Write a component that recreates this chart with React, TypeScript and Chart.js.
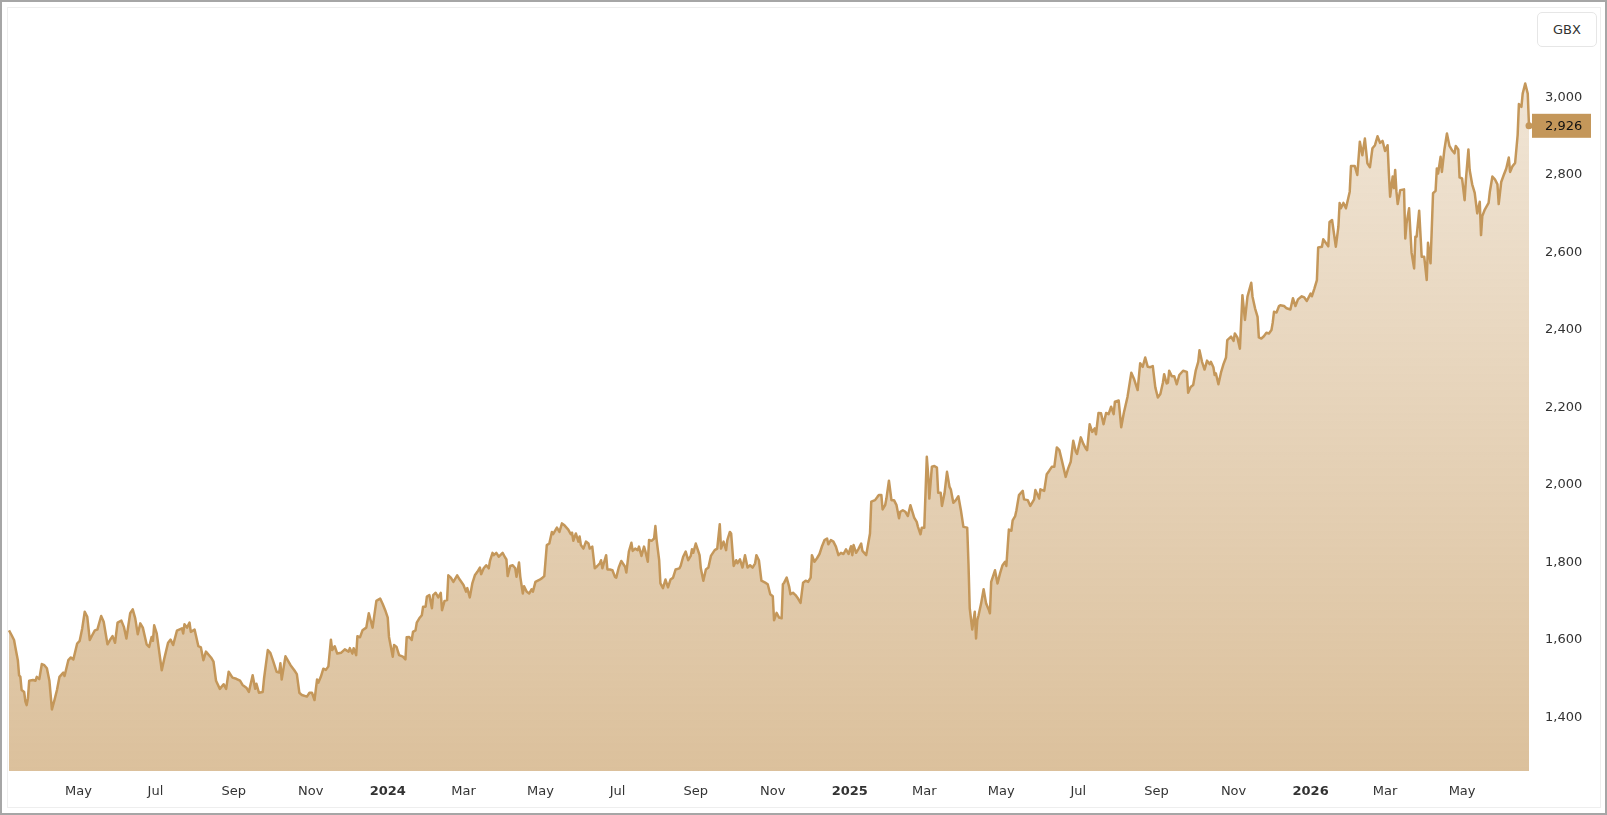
import React, { useEffect, useRef } from "react";
import { Chart, registerables } from "chart.js";

Chart.register(...registerables);

// Data: day offsets from the first session (2023-03-07) and closing prices in GBX
const START_DATE = Date.UTC(2023, 2, 7);
const DAY_MS = 86400000;

const DAYS = [
  0, 2, 4, 5, 7, 8, 9, 10, 12, 13, 14, 15, 16, 19, 21, 22, 24, 26, 28, 30, 32, 34, 36, 38, 40, 43, 44, 47, 49, 51, 54, 56, 58, 60, 62, 64, 66, 68, 70, 73, 75, 78, 80, 82, 84, 86, 89, 91, 93, 96, 98, 100, 102, 104, 106, 109, 111, 113, 114, 115, 117, 121, 123, 126, 128, 130, 133, 137, 138, 139, 141, 143, 144, 147, 150, 152, 154, 156, 160, 162, 164, 167, 170, 172, 174, 177, 180, 183, 185, 188, 190, 193, 195, 196, 198, 201, 202, 205, 207, 209, 212, 214, 215, 216, 219, 223, 226, 228, 230, 232, 236, 238, 240, 242, 244, 245, 247, 249, 251, 253, 255, 256, 258, 260, 263, 266, 269, 270, 272, 273, 275, 276, 278, 280, 283, 285, 288, 291, 294, 296, 298, 300, 301, 304, 305, 307, 309, 312, 314, 315, 317, 319, 320, 322, 323, 325, 327, 328, 330, 331, 333, 335, 336, 338, 340, 342, 343, 345, 347, 348, 350, 352, 355, 357, 360, 362, 363, 365, 367, 369, 371, 373, 374, 376, 378, 380, 381, 383, 384, 386, 388, 391, 393, 394, 395, 397, 399, 401, 402, 404, 405, 407, 408, 410, 412, 414, 415, 417, 420, 422, 424, 426, 428, 430, 431, 434, 436, 438, 440, 443, 445, 446, 447, 449, 451, 452, 453, 455, 457, 459, 460, 462, 464, 466, 468, 469, 470, 473, 474, 476, 478, 480, 481, 483, 485, 488, 489, 491, 493, 494, 496, 498, 499, 501, 503, 504, 506, 507, 509, 511, 512, 513, 515, 516, 518, 520, 522, 524, 526, 528, 531, 532, 534, 536, 538, 540, 541, 542, 544, 547, 548, 550, 552, 554, 556, 559, 561, 563, 564, 566, 568, 569, 571, 572, 574, 576, 577, 579, 581, 583, 585, 587, 589, 591, 592, 594, 596, 599, 601, 603, 605, 606, 608, 610, 612, 613, 614, 616, 618, 619, 621, 623, 625, 627, 629, 631, 633, 635, 636, 638, 640, 642, 644, 646, 648, 649, 651, 653, 655, 657, 659, 661, 663, 665, 667, 668, 669, 671, 673, 675, 676, 679, 682, 683, 686, 688, 689, 691, 692, 694, 695, 697, 699, 701, 703, 705, 706, 708, 710, 712, 714, 717, 719, 720, 722, 723, 725, 727, 728, 729, 731, 733, 735, 736, 738, 739, 741, 743, 745, 746, 748, 750, 752, 754, 756, 759, 760, 761, 763, 765, 766, 767, 768, 770, 772, 774, 776, 777, 778, 781, 783, 785, 787, 789, 790, 792, 794, 795, 797, 798, 800, 803, 804, 807, 809, 812, 813, 816, 817, 820, 822, 824, 826, 828, 830, 832, 834, 837, 839, 841, 843, 845, 846, 849, 851, 853, 854, 856, 858, 860, 861, 863, 865, 867, 869, 871, 873, 875, 876, 879, 881, 883, 886, 889, 891, 894, 896, 898, 900, 902, 904, 906, 908, 910, 912, 914, 915, 917, 918, 919, 921, 923, 925, 927, 930, 933, 934, 936, 938, 940, 942, 943, 945, 947, 949, 951, 952, 954, 955, 956, 958, 960, 962, 964, 965, 968, 970, 971, 973, 975, 977, 979, 981, 983, 984, 985, 987, 989, 990, 992, 994, 996, 998, 1000, 1001, 1002, 1004, 1006, 1007, 1010, 1012, 1015, 1017, 1019, 1021, 1024, 1026, 1028, 1031, 1032, 1034, 1036, 1037, 1040, 1041, 1043, 1045, 1046, 1048, 1051, 1053, 1054, 1055, 1057, 1059, 1062, 1063, 1066, 1068, 1070, 1072, 1074, 1076, 1078, 1080, 1082, 1084, 1086, 1088, 1090, 1092, 1093, 1094, 1096, 1097, 1098, 1099, 1100, 1102, 1105, 1106, 1107, 1109, 1111, 1113, 1114, 1115, 1117, 1119, 1121, 1123, 1124, 1126, 1128, 1130, 1131, 1132, 1134, 1135, 1137, 1139, 1141, 1143, 1145, 1146, 1148, 1149, 1151, 1153, 1154, 1156, 1157, 1159, 1161, 1163, 1165, 1166, 1167, 1169, 1172, 1173, 1175, 1177, 1179, 1180, 1182, 1184, 1186, 1188, 1189, 1191, 1193, 1195, 1196, 1198, 1199, 1201, 1203, 1204,
];

const PRICES = [
  1624, 1612, 1599, 1581, 1547, 1508, 1504, 1470, 1465, 1440, 1431, 1449, 1494, 1496, 1494, 1504, 1498, 1537, 1534, 1526, 1494, 1420, 1444, 1470, 1504, 1515, 1506, 1547, 1554, 1549, 1590, 1597, 1629, 1672, 1659, 1599, 1612, 1624, 1626, 1661, 1646, 1588, 1599, 1609, 1592, 1644, 1649, 1633, 1603, 1668, 1678, 1655, 1614, 1642, 1631, 1588, 1581, 1607, 1597, 1637, 1616, 1521, 1551, 1592, 1600, 1586, 1623, 1629, 1616, 1640, 1631, 1644, 1620, 1626, 1583, 1580, 1547, 1569, 1554, 1543, 1494, 1473, 1485, 1473, 1517, 1502, 1499, 1494, 1483, 1476, 1465, 1508, 1473, 1486, 1463, 1465, 1499, 1573, 1566, 1547, 1517, 1515, 1539, 1497, 1557, 1534, 1521, 1511, 1463, 1457, 1453, 1463, 1463, 1444, 1497, 1489, 1504, 1525, 1522, 1531, 1600, 1573, 1583, 1564, 1566, 1575, 1569, 1578, 1564, 1578, 1560, 1609, 1606, 1624, 1631, 1668, 1631, 1700, 1706, 1692, 1676, 1657, 1607, 1556, 1586, 1581, 1560, 1556, 1549, 1606, 1607, 1599, 1620, 1624, 1644, 1655, 1663, 1685, 1685, 1711, 1715, 1681, 1715, 1721, 1709, 1721, 1676, 1700, 1702, 1766, 1760, 1749, 1766, 1755, 1741, 1724, 1733, 1709, 1745, 1766, 1775, 1786, 1769, 1784, 1792, 1784, 1803, 1824, 1818, 1824, 1814, 1824, 1812, 1807, 1764, 1790, 1792, 1784, 1762, 1799, 1762, 1719, 1738, 1724, 1719, 1730, 1724, 1749, 1754, 1758, 1764, 1844, 1848, 1878, 1872, 1889, 1878, 1900, 1895, 1884, 1872, 1876, 1855, 1874, 1853, 1866, 1844, 1835, 1853, 1848, 1835, 1840, 1784, 1790, 1797, 1805, 1784, 1818, 1781, 1781, 1779, 1762, 1760, 1786, 1803, 1788, 1773, 1827, 1850, 1829, 1835, 1831, 1840, 1816, 1840, 1829, 1801, 1857, 1855, 1861, 1893, 1857, 1805, 1745, 1733, 1755, 1735, 1755, 1760, 1781, 1784, 1790, 1814, 1827, 1805, 1816, 1833, 1824, 1848, 1818, 1784, 1752, 1781, 1786, 1816, 1831, 1835, 1898, 1835, 1853, 1831, 1857, 1878, 1874, 1790, 1805, 1797, 1807, 1786, 1818, 1786, 1792, 1786, 1797, 1818, 1805, 1752, 1747, 1743, 1717, 1712, 1650, 1669, 1657, 1655, 1743, 1747, 1760, 1736, 1717, 1721, 1715, 1706, 1695, 1747, 1752, 1749, 1760, 1818, 1801, 1810, 1821, 1841, 1857, 1861, 1846, 1857, 1853, 1840, 1818, 1824, 1821, 1833, 1821, 1841, 1818, 1844, 1824, 1835, 1848, 1829, 1818, 1874, 1956, 1960, 1969, 1973, 1973, 1936, 1947, 1964, 2010, 1960, 1960, 1947, 1913, 1930, 1934, 1930, 1919, 1947, 1915, 1904, 1891, 1872, 1889, 1889, 2072, 2029, 1964, 2046, 2048, 2044, 1979, 1979, 1945, 1977, 2033, 1994, 1988, 1953, 1960, 1970, 1934, 1891, 1889, 1797, 1681, 1626, 1672, 1603, 1650, 1663, 1693, 1730, 1693, 1678, 1668, 1749, 1779, 1745, 1771, 1792, 1801, 1790, 1884, 1881, 1908, 1919, 1934, 1973, 1984, 1962, 1960, 1945, 1962, 1986, 1964, 1988, 1984, 2027, 2036, 2046, 2046, 2096, 2089, 2062, 2020, 2042, 2059, 2113, 2085, 2079, 2122, 2105, 2093, 2089, 2156, 2136, 2145, 2130, 2185, 2184, 2156, 2185, 2182, 2201, 2182, 2214, 2217, 2148, 2184, 2227, 2289, 2274, 2244, 2313, 2304, 2328, 2304, 2303, 2306, 2251, 2225, 2234, 2263, 2285, 2261, 2263, 2294, 2280, 2280, 2259, 2283, 2294, 2291, 2237, 2252, 2257, 2294, 2317, 2347, 2317, 2297, 2320, 2311, 2317, 2303, 2283, 2287, 2259, 2289, 2311, 2328, 2373, 2382, 2371, 2390, 2380, 2351, 2489, 2425, 2485, 2509, 2521, 2485, 2455, 2433, 2380, 2377, 2383, 2392, 2390, 2399, 2418, 2446, 2444, 2461, 2463, 2461, 2455, 2452, 2481, 2461, 2478, 2486, 2483, 2474, 2493, 2486, 2506, 2528, 2612, 2614, 2633, 2624, 2615, 2678, 2683, 2614, 2665, 2727, 2713, 2727, 2713, 2756, 2822, 2822, 2799, 2885, 2850, 2893, 2829, 2819, 2868, 2876, 2899, 2882, 2887, 2861, 2876, 2803, 2743, 2795, 2765, 2812, 2756, 2724, 2760, 2762, 2635, 2674, 2713, 2598, 2558, 2640, 2640, 2707, 2588, 2588, 2528, 2624, 2571, 2752, 2758, 2816, 2803, 2846, 2807, 2865, 2906, 2874, 2863, 2855, 2874, 2865, 2793, 2790, 2734, 2786, 2865, 2812, 2775, 2753, 2700, 2730, 2644, 2693, 2710, 2727, 2756, 2795, 2788, 2775, 2724, 2781, 2799, 2816, 2844, 2807, 2822, 2830, 2902, 2982, 2975, 3009, 3035, 3009, 2926,
];

const Y_TICKS = [1400, 1600, 1800, 2000, 2200, 2400, 2600, 2800, 3000];
const Y_MIN = 1261;
const Y_MAX = 3230;
const MONTH_NAMES = ["Jan", "Feb", "Mar", "Apr", "May", "Jun", "Jul", "Aug", "Sep", "Oct", "Nov", "Dec"];
const TICK_MONTHS = [0, 2, 4, 6, 8, 10];
const TICK_YEARS = [2023, 2024, 2025, 2026];
const CURRENCY = "GBX";

const LINE_COLOR = "#c4975a";
const TEXT_COLOR = "#333333";
const FONT_FAMILY = "'DejaVu Sans', sans-serif";

function buildMonthTicks(maxDay: number) {
  const ticks: { value: number; label: string; isYear: boolean }[] = [];
  for (const y of TICK_YEARS) {
    for (const m of TICK_MONTHS) {
      const d = Math.round((Date.UTC(y, m, 1) - START_DATE) / DAY_MS);
      if (d >= 0 && d <= maxDay) {
        ticks.push({ value: d, label: m === 0 ? String(y) : MONTH_NAMES[m], isYear: m === 0 });
      }
    }
  }
  return ticks;
}

const lastPricePlugin = {
  id: "lastPrice",
  afterDatasetsDraw(chart: any) {
    const { ctx, chartArea, scales } = chart;
    const last = PRICES[PRICES.length - 1];
    const y = scales.y.getPixelForValue(last);
    const x = chartArea.right + 3;
    ctx.save();
    ctx.fillStyle = LINE_COLOR;
    ctx.fillRect(x, y - 12, 59, 24);
    ctx.fillStyle = "#111111";
    ctx.font = `13px ${FONT_FAMILY}`;
    ctx.textAlign = "left";
    ctx.textBaseline = "middle";
    ctx.fillText(last.toLocaleString("en-US"), chartArea.right + 16, y + 0.5);
    ctx.restore();
  },
};

export default function App() {
  const canvasRef = useRef<HTMLCanvasElement | null>(null);

  useEffect(() => {
    document.body.style.margin = "0";
    const canvas = canvasRef.current;
    if (!canvas) return;
    const maxDay = DAYS[DAYS.length - 1];
    const monthTicks = buildMonthTicks(maxDay);
    const points = DAYS.map((d, i) => ({ x: d, y: PRICES[i] }));
    const lastIndex = points.length - 1;

    const chart = new Chart(canvas, {
      type: "line",
      data: {
        datasets: [
          {
            data: points,
            borderColor: LINE_COLOR,
            borderWidth: 2.5,
            borderJoinStyle: "round",
            tension: 0,
            fill: "start",
            clip: false as any,
            backgroundColor: (ctx: any) => {
              const { chart: c } = ctx;
              const area = c.chartArea;
              if (!area) return "rgba(196,151,90,0.4)";
              const g = c.ctx.createLinearGradient(0, area.top, 0, area.bottom);
              g.addColorStop(0, "rgba(196,151,90,0.22)");
              g.addColorStop(1, "rgba(196,151,90,0.6)");
              return g;
            },
            pointRadius: (ctx: any) => (ctx.dataIndex === lastIndex ? 3.5 : 0),
            pointBackgroundColor: LINE_COLOR,
            pointBorderWidth: 0,
            pointHoverRadius: 0,
          },
        ],
      },
      options: {
        animation: false,
        responsive: false,
        maintainAspectRatio: false,
        devicePixelRatio: 1,
        layout: { padding: { left: 9, top: 8, right: 0, bottom: 0 } },
        plugins: {
          legend: { display: false },
          tooltip: { enabled: false },
        },
        events: [],
        scales: {
          x: {
            type: "linear",
            min: 0,
            max: maxDay,
            grid: { display: false, drawTicks: false },
            border: { display: false },
            afterFit: (s: any) => {
              s.height = 44;
              s.paddingLeft = 0;
              s.paddingRight = 0;
            },
            afterBuildTicks: (s: any) => {
              s.ticks = monthTicks.map((t) => ({ value: t.value }));
            },
            ticks: {
              autoSkip: false,
              maxRotation: 0,
              padding: 13,
              color: TEXT_COLOR,
              font: (ctx: any) => {
                const t = monthTicks.find((m) => m.value === ctx.tick?.value);
                return { family: FONT_FAMILY, size: 13, weight: t && t.isYear ? "bold" : "normal" };
              },
              callback: (v: any) => {
                const t = monthTicks.find((m) => m.value === v);
                return t ? t.label : "";
              },
            },
          },
          y: {
            type: "linear",
            position: "right",
            min: Y_MIN,
            max: Y_MAX,
            grid: { display: false, drawTicks: false },
            border: { display: false },
            afterFit: (s: any) => {
              s.width = 78;
              s.paddingTop = 0;
              s.paddingBottom = 0;
            },
            afterBuildTicks: (s: any) => {
              s.ticks = Y_TICKS.map((v) => ({ value: v }));
            },
            ticks: {
              padding: 16,
              color: TEXT_COLOR,
              font: { family: FONT_FAMILY, size: 13 },
              callback: (v: any) => Number(v).toLocaleString("en-US"),
            },
          },
        },
      } as any,
      plugins: [lastPricePlugin],
    });

    return () => {
      chart.destroy();
    };
  }, []);

  return (
    <div
      style={{
        position: "relative",
        width: 1607,
        height: 815,
        background: "#ffffff",
        overflow: "hidden",
        fontFamily: FONT_FAMILY,
      }}
    >
      <canvas
        ref={canvasRef}
        width={1607}
        height={815}
        style={{ position: "absolute", left: 0, top: 0, width: 1607, height: 815 }}
      />
      <div
        style={{
          position: "absolute",
          left: 7,
          top: 7,
          width: 1594,
          height: 801,
          border: "1px solid #eeeeee",
          boxSizing: "border-box",
          pointerEvents: "none",
        }}
      />
      <div
        style={{
          position: "absolute",
          left: 0,
          top: 0,
          width: 1607,
          height: 815,
          border: "2px solid #a6a6a6",
          boxSizing: "border-box",
          pointerEvents: "none",
        }}
      />
      <div
        style={{
          position: "absolute",
          left: 1537,
          top: 12,
          width: 60,
          height: 35,
          border: "1px solid #e6e6e6",
          borderRadius: 5,
          boxSizing: "border-box",
          background: "#ffffff",
          display: "flex",
          alignItems: "center",
          justifyContent: "center",
          fontSize: 13,
          color: TEXT_COLOR,
        }}
      >
        {CURRENCY}
      </div>
    </div>
  );
}
